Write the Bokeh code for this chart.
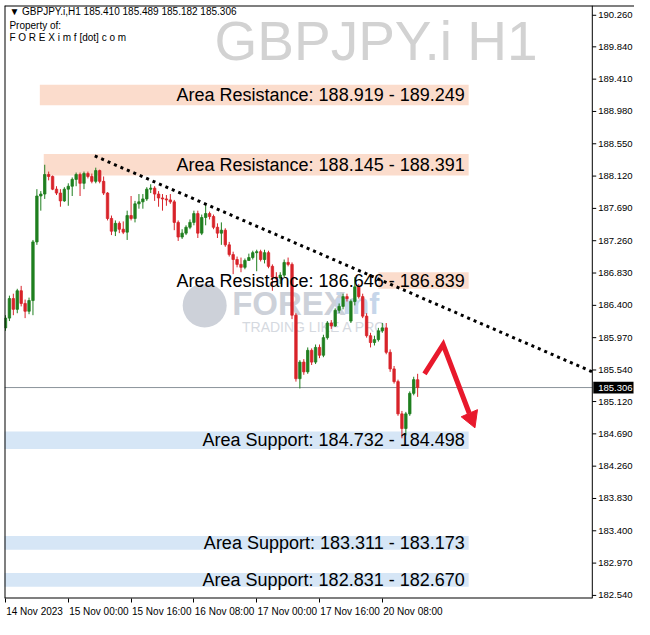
from bokeh.plotting import figure
from bokeh.models import Range1d, LinearAxis, FixedTicker, ColumnDataSource, Span
from bokeh.embed import file_html
from bokeh.resources import INLINE
from bokeh.core.properties import value

# ---------------- data ----------------
symbol = "GBPJPY.i"
timeframe = "H1"

opens = [186.100, 186.230, 186.490, 186.347, 186.594, 186.425, 186.321, 186.464, 187.244, 187.855,
         187.881, 188.141, 188.115, 187.946, 187.894, 187.790, 187.946, 187.985, 188.076, 188.141,
         188.024, 188.154, 188.115, 188.050, 188.193, 188.050, 187.894, 187.556, 187.387, 187.491,
         187.413, 187.374, 187.595, 187.556, 187.751, 187.777, 187.816, 187.946, 187.959, 187.881,
         187.829, 187.816, 187.803, 187.777, 187.504, 187.309, 187.361, 187.439, 187.504, 187.621,
         187.361, 187.569, 187.621, 187.582, 187.439, 187.361, 187.400, 187.205, 187.075, 187.010,
         186.945, 186.906, 186.997, 187.036, 187.101, 187.114, 187.010, 187.101, 186.919, 186.776,
         186.763, 186.802, 186.971, 186.945, 186.269, 185.424, 185.645, 185.515, 185.801, 185.645,
         185.840, 185.736, 185.970, 186.165, 186.126, 186.334, 186.386, 186.516, 186.191, 186.451,
         186.646, 186.516, 186.256, 185.996, 185.905, 185.944, 186.061, 186.100, 185.775, 185.554,
         185.385, 184.956, 184.761, 184.956, 185.229, 185.410]
highs = [186.269, 186.529, 186.555, 186.620, 186.659, 186.477, 186.503, 187.270, 187.946, 187.920,
         188.271, 188.180, 188.128, 187.985, 187.946, 187.972, 188.024, 188.102, 188.167, 188.167,
         188.180, 188.180, 188.154, 188.232, 188.206, 188.115, 187.907, 187.595, 187.530, 187.517,
         187.517, 187.660, 187.855, 187.790, 187.881, 187.881, 187.972, 188.011, 187.985, 187.920,
         187.881, 187.868, 187.881, 187.803, 187.530, 187.413, 187.465, 187.543, 187.660, 187.660,
         187.608, 187.751, 187.647, 187.608, 187.491, 187.504, 187.426, 187.244, 187.114, 187.049,
         187.036, 187.023, 187.088, 187.127, 187.140, 187.140, 187.140, 187.127, 186.945, 186.841,
         186.841, 187.010, 187.036, 186.971, 186.295, 185.671, 185.684, 185.840, 185.827, 185.879,
         185.879, 186.009, 186.191, 186.204, 186.360, 186.425, 186.555, 186.555, 186.477, 186.776,
         186.685, 186.555, 186.295, 186.035, 185.996, 186.100, 186.165, 186.165, 185.814, 185.593,
         185.411, 184.995, 184.982, 185.255, 185.450, 185.489]
lows = [186.061, 186.191, 186.269, 186.295, 186.386, 186.230, 186.282, 186.269, 187.205, 187.660,
        187.816, 188.063, 187.933, 187.868, 187.712, 187.777, 187.725, 187.855, 187.985, 187.855,
        187.946, 188.089, 188.024, 188.024, 188.024, 187.868, 187.530, 187.335, 187.322, 187.361,
        187.348, 187.270, 187.530, 187.504, 187.686, 187.686, 187.790, 187.894, 187.790, 187.712,
        187.660, 187.725, 187.751, 187.400, 187.257, 187.283, 187.335, 187.413, 187.465, 187.296,
        187.335, 187.465, 187.543, 187.413, 187.296, 187.205, 187.179, 187.049, 186.815, 186.906,
        186.841, 186.880, 186.997, 187.010, 186.854, 186.984, 186.958, 186.893, 186.594, 186.724,
        186.685, 186.776, 186.919, 186.217, 185.385, 185.294, 185.476, 185.489, 185.606, 185.619,
        185.697, 185.710, 185.944, 186.087, 186.113, 186.295, 186.347, 186.451, 186.165, 186.399,
        186.490, 186.230, 185.970, 185.840, 185.866, 185.918, 186.035, 185.749, 185.515, 185.359,
        184.930, 184.631, 184.670, 184.930, 185.203, 185.182]
closes = [186.230, 186.490, 186.347, 186.594, 186.425, 186.321, 186.464, 187.244, 187.855, 187.881,
          188.141, 188.115, 187.946, 187.894, 187.790, 187.946, 187.985, 188.076, 188.141, 188.024,
          188.154, 188.115, 188.050, 188.193, 188.050, 187.894, 187.556, 187.387, 187.491, 187.413,
          187.374, 187.595, 187.556, 187.751, 187.777, 187.816, 187.946, 187.959, 187.881, 187.829,
          187.816, 187.803, 187.777, 187.504, 187.309, 187.361, 187.439, 187.504, 187.621, 187.361,
          187.569, 187.621, 187.582, 187.439, 187.361, 187.400, 187.205, 187.075, 187.010, 186.945,
          186.906, 186.997, 187.036, 187.101, 187.114, 187.010, 187.101, 186.919, 186.776, 186.763,
          186.802, 186.971, 186.945, 186.269, 185.424, 185.645, 185.515, 185.801, 185.645, 185.840,
          185.736, 185.970, 186.165, 186.126, 186.334, 186.386, 186.516, 186.490, 186.451, 186.646,
          186.516, 186.256, 185.996, 185.905, 185.944, 186.061, 186.100, 185.775, 185.554, 185.385,
          184.956, 184.761, 184.956, 185.229, 185.411, 185.306]
bar_index = list(range(len(closes)))

time_tick_bars = [0, 16, 32, 48, 64, 80, 96]
time_tick_labels = ["14 Nov 2023", "15 Nov 00:00", "15 Nov 16:00", "16 Nov 08:00",
                    "17 Nov 00:00", "17 Nov 16:00", "20 Nov 08:00"]
price_ticks = [182.540, 182.970, 183.400, 183.830, 184.260, 184.690, 185.120, 185.540,
               185.970, 186.400, 186.830, 187.260, 187.690, 188.120, 188.550, 188.980,
               189.410, 189.840, 190.260]
last_price = 185.306

zone_labels = ["Area Resistance: 188.919 - 189.249",
               "Area Resistance: 188.145 - 188.391",
               "Area Resistance: 186.646 - 186.839",
               "Area Support: 184.732 - 184.498",
               "Area Support: 183.311 - 183.173",
               "Area Support: 182.831 - 182.670"]
zone_top = [189.337, 188.414, 186.841, 184.722, 183.331, 182.837]
zone_bottom = [189.064, 188.128, 186.620, 184.488, 183.149, 182.655]
zone_start_bar = [8.75, 9.75, 95.0, -1.0, -1.0, -1.0]
zone_end_bar = [118.0, 118.0, 118.0, 118.0, 118.0, 118.0]
zone_kind = ["res", "res", "res", "sup", "sup", "sup"]

trend_bars = [22.75, 149.5]
trend_prices = [188.388, 185.515]

arrow_bars = [106.75, 111.5, 118.15]
arrow_prices = [185.489, 185.879, 184.964]
arrow_head_bars = [116.1, 120.25, 119.6]
arrow_head_prices = [184.917, 185.012, 184.770]

# ---------------- styling ----------------
FONT = "Liberation Sans"
UP = "#1f7f1f"
DOWN = "#d8232a"
RES_FILL = "#fbdccc"
SUP_FILL = "#d6e6f6"
ARROW = "#e8192c"


def bx(px):
    # horizontal position in the reference picture -> bar units
    return (px - 5) / 4.0


def py(pxv):
    # vertical position in the reference picture -> price units
    return 190.455 - 0.013 * pxv


X0, X1 = bx(4), bx(646)
Y0, Y1 = py(612), py(5)

p = figure(width=634, height=619, output_backend="svg", toolbar_location=None,
           x_range=Range1d(X0, X1), y_range=Range1d(Y0, Y1),
           x_axis_type=None, y_axis_type=None,
           min_border_left=4, min_border_top=5, min_border_right=0, min_border_bottom=19)
p.outline_line_color = None
p.background_fill_color = "white"
p.border_fill_color = "white"

# watermark title
p.text(x=[bx(218)], y=[py(41)], text=[f"{symbol} {timeframe}"], text_font=value(FONT),
       text_font_size="55px", text_color="#d2d2d2", text_baseline="middle")

# FOREXimf watermark
p.scatter(x=[bx(208)], y=[py(312)], size=44, marker="circle", fill_color="#cdd1d9", line_color=None)
p.text(x=[bx(236)], y=[py(310)], text=["FOREX"], text_font=value(FONT), text_font_style="bold",
       text_font_size="33px", text_color="#cdd1d9", text_baseline="middle")
p.text(x=[bx(340)], y=[py(310)], text=["imf"], text_font=value(FONT), text_font_style="bold",
       text_font_size="30px", text_color="#c6d6ea", text_baseline="middle")
p.text(x=[bx(246)], y=[py(334)], text=["TRADING LIKE A PRO"], text_font=value(FONT),
       text_font_size="14px", text_color="#d5d9df", text_baseline="middle")

# zones
zsrc = ColumnDataSource(dict(left=zone_start_bar, right=zone_end_bar, top=zone_top, bottom=zone_bottom,
                             fill=[RES_FILL if k == "res" else SUP_FILL for k in zone_kind],
                             mid=[(a + b) / 2 for a, b in zip(zone_top, zone_bottom)],
                             label=zone_labels))
p.quad(left="left", right="right", top="top", bottom="bottom", fill_color="fill", line_color=None, source=zsrc)

# current price line
p.segment(x0=[X0], x1=[bx(603)], y0=[last_price], y1=[last_price], line_color="#8b939b", line_width=1)

# candles
src = ColumnDataSource(dict(x=bar_index, o=opens, h=highs, l=lows, c=closes,
                            top=[max(a, b) for a, b in zip(opens, closes)],
                            bottom=[min(a, b) for a, b in zip(opens, closes)],
                            color=[UP if c >= o else DOWN for o, c in zip(opens, closes)]))
p.segment(x0="x", y0="h", x1="x", y1="l", line_color="color", line_width=1, source=src)
p.vbar(x="x", width=0.62, top="top", bottom="bottom", fill_color="color", line_color="color",
       line_width=0.8, source=src)

# zone texts
p.text(x=bx(473), y="mid", text="label", source=zsrc, text_align="right", text_baseline="middle",
       text_font=value(FONT), text_font_size="18px", text_color="black")

# trend line
p.line(trend_bars, trend_prices, line_color="black", line_width=3, line_dash="3 4")

# arrow
p.line(arrow_bars, arrow_prices, line_color=ARROW, line_width=5, line_join="miter")
p.patch(arrow_head_bars, arrow_head_prices, fill_color=ARROW, line_color=ARROW, line_width=1)

# header texts
header = f"\u25bc {symbol},{timeframe}  {opens[-1]:.3f} {highs[-1]:.3f} {lows[-1]:.3f} {closes[-1]:.3f}"
p.text(x=[bx(9)], y=[py(11)], text=[header], text_font=value(FONT), text_font_size="10px",
       text_color="black", text_baseline="middle")
p.text(x=[bx(9)], y=[py(25)], text=["Property of:"], text_font=value(FONT), text_font_size="10px",
       text_color="black", text_baseline="middle")
p.text(x=[bx(9)], y=[py(38)], text=["F O R E X i m f [dot] c o m"], text_font=value(FONT),
       text_font_size="10px", text_color="black", text_baseline="middle")

# frame borders (left, top, bottom up to the price scale)
p.segment(x0=[X0, X0, X0], x1=[X0, X1, bx(603)], y0=[Y0, Y1, Y0], y1=[Y1, Y1, Y0],
          line_color="black", line_width=2)

# price scale on the right (MetaTrader style, inside the canvas)
AX = bx(603)
p.segment(x0=[AX], x1=[AX], y0=[Y0], y1=[Y1], line_color="black", line_width=1)
p.segment(x0=[AX] * len(price_ticks), x1=[bx(607)] * len(price_ticks), y0=price_ticks, y1=price_ticks,
          line_color="black", line_width=1)
p.text(x=[bx(609)] * len(price_ticks), y=price_ticks, text=[f"{t:.3f}" for t in price_ticks],
       text_font=value(FONT), text_font_size="9.5px", text_color="black", text_baseline="middle",
       text_align="left")
half_box = 0.078
p.quad(left=[bx(604)], right=[bx(645)], top=[last_price + half_box], bottom=[last_price - half_box],
       fill_color="black", line_color=None)
p.text(x=[bx(609)], y=[last_price], text=[f"{last_price:.3f}"], text_font=value(FONT),
       text_font_size="9.5px", text_color="white", text_baseline="middle", text_align="left")

# time axis
label_offsets = [7.4] + [7.8] * 6
centers = [round(t + o, 2) for t, o in zip(time_tick_bars, label_offsets)]
xaxis = LinearAxis(ticker=FixedTicker(ticks=centers, minor_ticks=time_tick_bars),
                   major_label_overrides={c: l for c, l in zip(centers, time_tick_labels)},
                   major_tick_out=0, major_tick_in=0, minor_tick_out=4, minor_tick_in=0,
                   minor_tick_line_color="black", axis_line_color=None,
                   major_label_text_font=FONT, major_label_text_font_size="10px",
                   major_label_text_color="black", major_label_standoff=3)
p.add_layout(xaxis, "below")

open("out.html", "w").write(file_html(p, INLINE))
